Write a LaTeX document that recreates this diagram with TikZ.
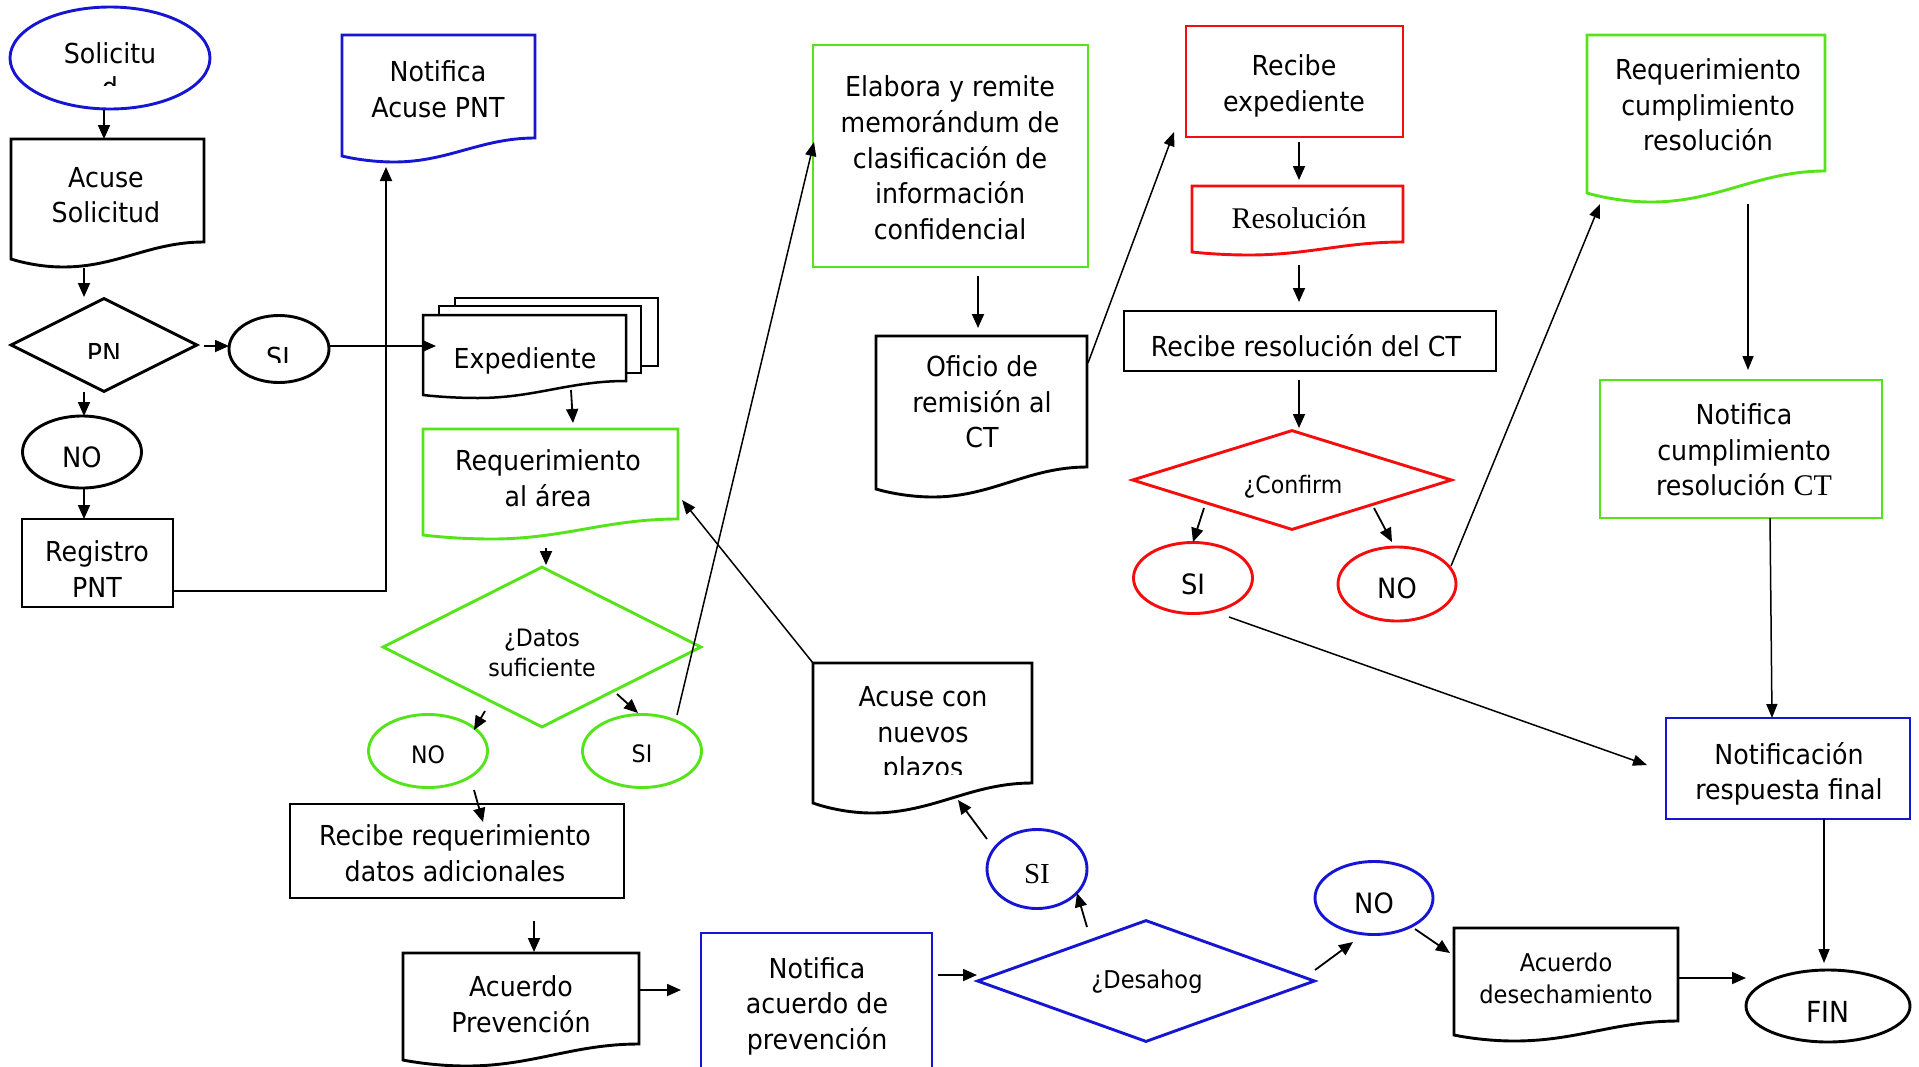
\documentclass[tikz,border=0pt]{standalone}
\usepackage{fontspec}
\setmainfont{DejaVu Sans}[FakeStretch=0.92]
\newfontfamily\serifF{Liberation Serif}
\usetikzlibrary{shapes.geometric,arrows.meta,calc}
\definecolor{bluC}{RGB}{22,22,210}
\definecolor{grnC}{RGB}{85,228,25}
\definecolor{redC}{RGB}{245,12,12}
\newcommand{\myfs}[2]{\fontsize{#1}{#2}\selectfont}
\newcommand{\docshape}[7]{%
 \pgfmathsetmacro\dsW{#4-(#2)}%
 \pgfmathsetmacro\dsM{#2+0.27*\dsW}%
 \pgfmathsetmacro\dsA{#4-0.28*\dsW}%
 \pgfmathsetmacro\dsB{#2+0.55*\dsW}%
 \pgfmathsetmacro\dsC{#2+0.12*\dsW}%
 \draw[#1] (#2,#3) -- (#4,#3) -- (#4,#5) .. controls (\dsA,#5) and (\dsB,#7) .. (\dsM,#7) .. controls (\dsC,#7) and (#2,#6) .. (#2,#6) -- cycle;}
\begin{document}
\begin{tikzpicture}[x=1pt,y=-1pt,
 lbl/.style={align=center, inner sep=0pt, font=\myfs{27.5}{35.5}},
 sml/.style={align=center, inner sep=0pt, font=\myfs{24}{30}},
 bd/.style={line width=2.9pt, line join=miter},
 arr/.style={line width=1.8pt, -{Triangle[length=14pt,width=12pt]}},
 tarr/.style={line width=1.5pt, -{Triangle[length=14pt,width=11pt]}},
 ell/.style={ellipse, draw, bd, inner sep=0pt, fill=white},
 dia/.style={diamond, draw, bd, inner sep=0pt, fill=white},
 box/.style={rectangle, draw, bd, inner sep=0pt, fill=white},
]
\useasboundingbox (0,0) rectangle (1919,1066);
\fill[white] (0,0) rectangle (1919,1066);

% ---------------- shapes ----------------
\node[ell, draw=bluC, minimum width=200pt, minimum height=102pt] (solE) at (110,58) {};
\docshape{bd, fill=white}{11}{139}{204}{242}{259}{267}
\node[dia, minimum width=187pt, minimum height=94pt] (pnD) at (104,345) {};
\node[ell, minimum width=100pt, minimum height=67pt] (si1E) at (279,349) {};
\node[ell, minimum width=119pt, minimum height=72pt] (no1E) at (82,452) {};
\node[box, minimum width=151pt, minimum height=88pt] (regB) at (97.5,563) {};
\docshape{bd, draw=bluC, fill=white}{342}{35}{535}{138}{156}{162}

\draw[line width=2.5pt, fill=white] (455,298) rectangle (658,366);
\draw[line width=2.5pt, fill=white] (439,306) rectangle (641,373);
\docshape{line width=2.5pt, fill=white}{423}{315}{626}{381}{395}{398}
\docshape{bd, draw=grnC, fill=white}{423}{429}{678}{519}{535}{539}
\node[dia, draw=grnC, minimum width=319pt, minimum height=161pt] (datD) at (542,647) {};
\node[ell, draw=grnC, minimum width=119pt, minimum height=73pt] (no2E) at (428,751) {};
\node[ell, draw=grnC, minimum width=119pt, minimum height=73pt] (si2E) at (642,751) {};
\node[box, minimum width=334pt, minimum height=94pt] (recB) at (457,851) {};
\docshape{bd, fill=white}{403}{953}{639}{1044}{1060}{1066}
\node[box, draw=bluC, minimum width=231pt, minimum height=167pt] (notaB) at (816.5,1016.5) {};
\node[dia, draw=bluC, minimum width=338pt, minimum height=122pt] (desD) at (1146,981) {};
\node[ell, draw=bluC, minimum width=100pt, minimum height=79pt] (si3E) at (1037,869) {};
\docshape{bd, fill=white}{813}{663}{1032}{783}{803}{813}
\node[ell, draw=bluC, minimum width=118pt, minimum height=73pt] (no3E) at (1374,898) {};
\docshape{bd, fill=white}{1454}{928}{1678}{1021}{1035}{1041}
\node[ell, minimum width=164pt, minimum height=72pt] (finE) at (1828,1006) {};
\node[box, draw=bluC, minimum width=244pt, minimum height=101pt] (nrfB) at (1788,768.5) {};

\node[box, draw=grnC, minimum width=275pt, minimum height=222pt] (elaB) at (950.5,156) {};
\docshape{bd, fill=white}{876}{336}{1087}{467}{489}{497}
\node[box, draw=redC, minimum width=217pt, minimum height=111pt] (rexB) at (1294.5,81.5) {};
\docshape{bd, draw=redC, fill=white}{1192}{186}{1403}{242}{252}{255}
\node[box, minimum width=372pt, minimum height=60pt] (rrcB) at (1310,341) {};
\node[dia, draw=redC, minimum width=320pt, minimum height=100pt] (conD) at (1292,480) {};
\node[ell, draw=redC, minimum width=119pt, minimum height=71pt] (si4E) at (1193,578) {};
\node[ell, draw=redC, minimum width=118pt, minimum height=74pt] (no4E) at (1397,584) {};
\docshape{bd, draw=grnC, fill=white}{1587}{35}{1825}{171}{193}{202}
\node[box, draw=grnC, minimum width=282pt, minimum height=138pt] (ncuB) at (1741,449) {};

% ---------------- texts ----------------
\node[lbl] (solT) at (110,53) {Solicitu};
\begin{scope}
\clip (0,0) rectangle (1919,85);
\node[lbl, anchor=base] (solT2) at (110,97) {d};
\end{scope}
\node[lbl] (acuT) at (106,195) {Acuse\\Solicitud};
\begin{scope}
\clip (0,0) rectangle (1919,358);
\node[lbl, anchor=base] (pnT) at (104,363) {PN};
\end{scope}
\begin{scope}
\clip (0,0) rectangle (1919,362);
\node[lbl, anchor=base] (si1T) at (278,367) {SI};
\end{scope}
\node[lbl, font=\myfs{28}{34}] (no1T) at (82,457) {NO};
\node[lbl] (regT) at (97,569) {Registro\\PNT};
\node[lbl] (naT) at (438,89) {Notifica\\Acuse PNT};
\node[lbl] (expT) at (525,361) {Expediente};
\node[lbl] (reqT) at (548,478) {Requerimiento\\al área};
\node[sml] (datT) at (542,653) {¿Datos\\suficiente};
\node[sml] (no2T) at (428,755) {NO};
\node[sml] (si2T) at (642,754) {SI};
\node[lbl] (recT) at (455,853) {Recibe requerimiento\\datos adicionales};
\node[lbl] (apvT) at (521,1004) {Acuerdo\\Prevención};
\node[lbl] (notaT) at (817,1006) {Notifica\\acuerdo de\\prevención};
\node[sml, font=\myfs{24.5}{30}] (desT) at (1147,982) {¿Desahog};
\node[lbl, font=\serifF\myfs{29}{34}] (si3T) at (1037,874) {SI};
\begin{scope}
\clip (0,0) rectangle (1919,774);
\node[lbl] (acnT) at (923,735) {Acuse con\\nuevos\\plazos};
\end{scope}
\node[lbl, font=\myfs{28}{34}] (no3T) at (1374,903) {NO};
\node[sml, font=\myfs{24.5}{32}] (adsT) at (1566,978) {Acuerdo\\desechamiento};
\node[lbl, font=\myfs{29}{34}] (finT) at (1828,1012) {FIN};
\node[lbl] (nrfT) at (1789,774) {Notificación\\respuesta final};
\node[lbl, font=\myfs{27.5}{35.7}] (elaT) at (950,158) {Elabora y remite\\memorándum de\\clasificación de\\información\\confidencial};
\node[lbl] (ofiT) at (982,402) {Oficio de\\remisión al\\CT};
\node[lbl, font=\myfs{27.5}{36}] (rexT) at (1294,86) {Recibe\\expediente};
\node[lbl, font=\serifF\myfs{30}{34}] (resT) at (1299,218) {Resolución};
\node[lbl] (rrcT) at (1306,345.5) {Recibe resolución del CT};
\node[sml] (conT) at (1293,487) {¿Confirm};
\node[lbl, font=\myfs{28}{34}] (si4T) at (1193,584) {SI};
\node[lbl, font=\myfs{28}{34}] (no4T) at (1397,588) {NO};
\node[lbl] (rcuT) at (1708,105) {Requerimiento\\cumplimiento\\resolución};
\node[lbl] (ncuT) at (1744,450) {Notifica\\cumplimiento\\resolución {\serifF\myfs{30}{35.5}CT}};

% ---------------- connector points ----------------
\coordinate (p1a) at (104,110);  \coordinate (p1b) at (104,139);
\coordinate (p2a) at (84,268);   \coordinate (p2b) at (84,297);
\coordinate (p3a) at (204,346);  \coordinate (p3b) at (229,346);
\coordinate (p4a) at (329,346);  \coordinate (p4b) at (436,346);
\coordinate (p5a) at (84,392);   \coordinate (p5b) at (84,416);
\coordinate (p6a) at (84,488);   \coordinate (p6b) at (84,519);
\coordinate (p7a) at (173,591);  \coordinate (p7b) at (386,167);
\coordinate (p8a) at (571,390);  \coordinate (p8b) at (573,423);
\coordinate (p9a) at (546,548);  \coordinate (p9b) at (546,565);
\coordinate (q1a) at (485,711);  \coordinate (q1b) at (474,730);
\coordinate (q2a) at (617,694);  \coordinate (q2b) at (638,713);
\coordinate (q3a) at (677,715);  \coordinate (q3b) at (814,142);
\coordinate (q4a) at (474,790);  \coordinate (q4b) at (483,822);
\coordinate (q5a) at (534,921);  \coordinate (q5b) at (534,952);
\coordinate (q6a) at (639,990);  \coordinate (q6b) at (681,990);
\coordinate (q7a) at (938,975);  \coordinate (q7b) at (977,975);
\coordinate (q8a) at (1087,927); \coordinate (q8b) at (1077,893);
\coordinate (q9a) at (987,839);  \coordinate (q9b) at (958,800);
\coordinate (r1a) at (813,663);  \coordinate (r1b) at (682,500);
\coordinate (r2a) at (1315,970); \coordinate (r2b) at (1353,942);
\coordinate (r3a) at (1415,929); \coordinate (r3b) at (1450,953);
\coordinate (r4a) at (1678,978); \coordinate (r4b) at (1746,978);
\coordinate (r5a) at (1824,819); \coordinate (r5b) at (1824,963);
\coordinate (r6a) at (1770,518); \coordinate (r6b) at (1772,718);
\coordinate (r7a) at (978,276);  \coordinate (r7b) at (978,328);
\coordinate (r8a) at (1088,363); \coordinate (r8b) at (1174,132);
\coordinate (r9a) at (1299,142); \coordinate (r9b) at (1299,180);
\coordinate (s1a) at (1299,265); \coordinate (s1b) at (1299,302);
\coordinate (s2a) at (1299,380); \coordinate (s2b) at (1299,428);
\coordinate (s3a) at (1204,508); \coordinate (s3b) at (1193,542);
\coordinate (s4a) at (1374,508); \coordinate (s4b) at (1392,542);
\coordinate (s5a) at (1451,566); \coordinate (s5b) at (1600,204);
\coordinate (s6a) at (1229,617); \coordinate (s6b) at (1647,765);
\coordinate (s7a) at (1748,204); \coordinate (s7b) at (1748,370);

% ---------------- connectors ----------------
\draw[arr] (p1a) -- (p1b);
\draw[arr] (p2a) -- (p2b);
\draw[arr] (p3a) -- (p3b);
\draw[arr] (p4a) -- (p4b);
\draw[arr] (p5a) -- (p5b);
\draw[arr] (p6a) -- (p6b);
\draw[arr] (p7a) -| (p7b);
\draw[arr] (p8a) -- (p8b);
\draw[arr] (p9a) -- (p9b);
\draw[arr] (q1a) -- (q1b);
\draw[arr] (q2a) -- (q2b);
\draw[tarr] (q3a) -- (q3b);
\draw[arr] (q4a) -- (q4b);
\draw[arr] (q5a) -- (q5b);
\draw[arr] (q6a) -- (q6b);
\draw[arr] (q7a) -- (q7b);
\draw[arr] (q8a) -- (q8b);
\draw[arr] (q9a) -- (q9b);
\draw[tarr] (r1a) -- (r1b);
\draw[arr] (r2a) -- (r2b);
\draw[arr] (r3a) -- (r3b);
\draw[arr] (r4a) -- (r4b);
\draw[tarr] (r5a) -- (r5b);
\draw[tarr] (r6a) -- (r6b);
\draw[arr] (r7a) -- (r7b);
\draw[tarr] (r8a) -- (r8b);
\draw[arr] (r9a) -- (r9b);
\draw[arr] (s1a) -- (s1b);
\draw[arr] (s2a) -- (s2b);
\draw[arr] (s3a) -- (s3b);
\draw[arr] (s4a) -- (s4b);
\draw[tarr] (s5a) -- (s5b);
\draw[tarr] (s6a) -- (s6b);
\draw[tarr] (s7a) -- (s7b);
\end{tikzpicture}
\end{document}
